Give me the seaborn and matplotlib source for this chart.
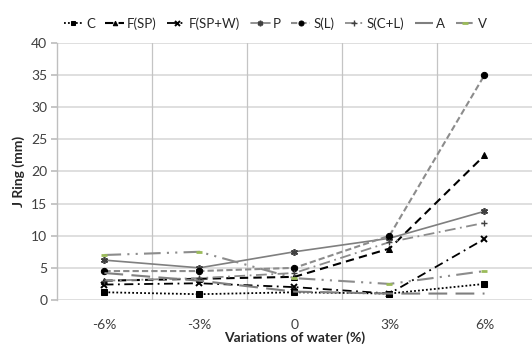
import matplotlib
matplotlib.use("Agg")
import matplotlib.pyplot as plt
import seaborn as sns
import numpy as np
import pandas as pd

sns.set_theme(style="white")
plt.rcParams['font.family'] = ['Lato', 'DejaVu Sans']

# data
water = ['-6%', '-3%', '0', '3%', '6%']
c_vals = [1.2, 0.9, 1.2, 1.0, 2.5]
fsp_vals = [3.0, 3.3, 3.6, 8.0, 22.5]
fspw_vals = [2.4, 2.6, 2.0, 1.0, 9.5]
p_vals = [6.2, 5.0, 7.5, 9.6, 13.8]
sl_vals = [4.5, 4.5, 5.0, 10.0, 35.0]
scl_vals = [3.0, 3.4, 4.2, 9.0, 12.0]
a_vals = [4.2, 3.0, 1.3, 1.0, 1.0]
v_vals = [7.0, 7.5, 3.4, 2.5, 4.5]

series = ['C', 'F(SP)', 'F(SP+W)', 'P', 'S(L)', 'S(C+L)', 'A', 'V']
values = [c_vals, fsp_vals, fspw_vals, p_vals, sl_vals, scl_vals, a_vals, v_vals]

df = pd.DataFrame({
    'x': np.tile(np.arange(len(water)), len(series)),
    'y': np.concatenate(values),
    'serie': np.repeat(series, len(water)),
})

# estilos tipo Excel
styles = {
    'C': dict(color='black', ls=(0, (1, 1.2)), marker='s', ms=4, mfc='black', mec='black', lw=1.3),
    'F(SP)': dict(color='black', ls=(0, (4, 2.5)), marker='^', ms=4, mfc='black', mec='black', lw=1.5),
    'F(SP+W)': dict(color='black', ls=(0, (5, 2.5, 1, 2.5)), marker='x', ms=4.5, mec='black', mew=1.4, lw=1.3),
    'P': dict(color='#7f7f7f', ls='-', marker=(6, 2, 0), ms=5, mec='#404040', mew=1.2, lw=1.2),
    'S(L)': dict(color='#8c8c8c', ls=(0, (3, 1.5)), marker='o', ms=4.5, mfc='black', mec='black', lw=1.5),
    'S(C+L)': dict(color='#8c8c8c', ls=(0, (6, 2.5, 1, 2.5)), marker='+', ms=5, mec='#404040', mew=1.0, lw=1.3),
    'A': dict(color='#7f7f7f', ls=(0, (9, 4)), marker=None, lw=1.5),
    'V': dict(color='#8c8c8c', ls=(0, (8, 3, 1, 3, 1, 3)), marker='_', ms=5, mec='#9bbb59', mew=2, lw=1.5),
}

fig = plt.figure(figsize=(5.32, 3.46), dpi=100)
ax = fig.add_axes([0.107, 0.133, 0.893, 0.743])

for s in series:
    sns.lineplot(data=df[df['serie'] == s], x='x', y='y', ax=ax, label=s,
                 estimator=None, **styles[s])

ax.set_xlim(-0.5, 4.5)
ax.set_ylim(0, 40)
ax.set_yticks(np.arange(0, 41, 5))
ax.set_xticks(range(len(water)))
ax.set_xticklabels(water)

# grid horizontal + lineas verticales entre categorias
for yv in np.arange(0, 41, 5):
    ax.axhline(yv, color='#d9d9d9', lw=1.2, zorder=0)
for xv in np.arange(0.5, 4.5, 1):
    ax.axvline(xv, color='#c4c4c4', lw=0.9, zorder=0)

for sp in ['top', 'right', 'bottom']:
    ax.spines[sp].set_visible(False)
ax.spines['left'].set_color('#bfbfbf')
ax.spines['left'].set_linewidth(1.0)

ax.tick_params(axis='y', left=True, length=4, color='#bfbfbf', labelsize=10,
               labelcolor='#404040', pad=3)
ax.tick_params(axis='x', bottom=False, labelsize=10, labelcolor='#404040', pad=8)

ax.set_xlabel('Variations of water (%)', fontsize=10, fontweight='bold', labelpad=0)
ax.set_ylabel('J Ring (mm)', fontsize=10, fontweight='bold', labelpad=4)

ax.legend(loc='lower center', bbox_to_anchor=(0.46, 1.03), ncol=8, frameon=False,
          fontsize=9.5, handlelength=1.4, handletextpad=0.25, columnspacing=0.8,
          borderaxespad=0, markerscale=0.8)

fig.savefig('out.png', dpi=100)
